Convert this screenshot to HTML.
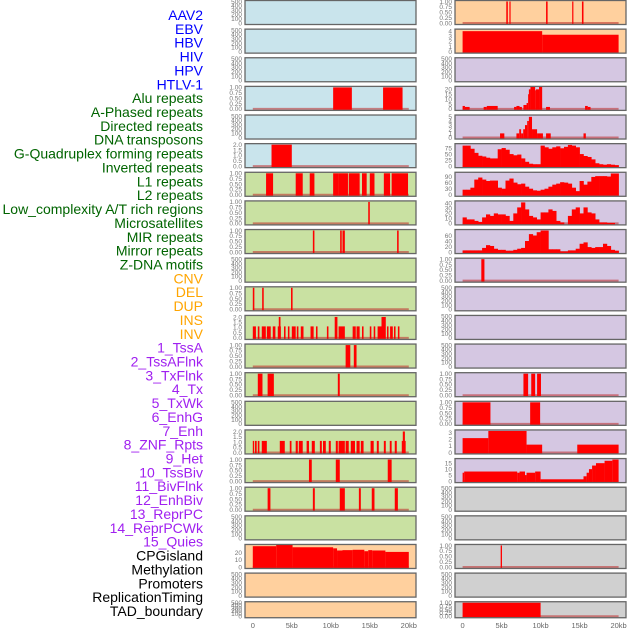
<!DOCTYPE html>
<html><head><meta charset="utf-8">
<style>
html,body{margin:0;padding:0;background:#fff;width:630px;height:630px;overflow:hidden}
svg text{font-family:"Liberation Sans",sans-serif}
</style></head>
<body>
<svg id="chart" width="630" height="630" viewBox="0 0 630 630" xmlns="http://www.w3.org/2000/svg"></svg>
<script>
// ---- labels ----
const trackLabels = ["AAV2","EBV","HBV","HIV","HPV","HTLV-1","Alu repeats","A-Phased repeats","Directed repeats","DNA transposons","G-Quadruplex forming repeats","Inverted repeats","L1 repeats","L2 repeats","Low_complexity A/T rich regions","Microsatellites","MIR repeats","Mirror repeats","Z-DNA motifs","CNV","DEL","DUP","INS","INV","1_TssA","2_TssAFlnk","3_TxFlnk","4_Tx","5_TxWk","6_EnhG","7_Enh","8_ZNF_Rpts","9_Het","10_TssBiv","11_BivFlnk","12_EnhBiv","13_ReprPC","14_ReprPCWk","15_Quies","CPGisland","Methylation","Promoters","ReplicationTiming","TAD_boundary"];
const labelColors = ["#0000ff","#0000ff","#0000ff","#0000ff","#0000ff","#0000ff","#006400","#006400","#006400","#006400","#006400","#006400","#006400","#006400","#006400","#006400","#006400","#006400","#006400","#ffa500","#ffa500","#ffa500","#ffa500","#ffa500","#a020f0","#a020f0","#a020f0","#a020f0","#a020f0","#a020f0","#a020f0","#a020f0","#a020f0","#a020f0","#a020f0","#a020f0","#a020f0","#a020f0","#a020f0","#000","#000","#000","#000","#000"];
const xTickKb = [0,5,10,15,20];
const xTickLabels = ["0","5kb","10kb","15kb","20kb"];

// ---- bar data [startKb, endKb, value] ----
const ebvBars = [[5.6,5.8,1],[6.0,6.15,1],[10.7,10.9,1],[14.05,14.2,1],[15.3,15.5,1]];
const hivBars = [[0,10.2,4],[10.2,20,3.3]];
const aluBars = [[10.3,12.7,1],[16.7,19.2,1]];
const aPhasedBars = [[0,0.3,3],[0.3,0.9,2],[2.7,3.1,2],[3.1,4.5,3],[6.6,6.9,2],[6.9,7.3,3],[7.3,7.6,2],[7.8,8.2,4],[8.2,8.4,6],[8.4,8.5,15],[8.5,8.7,20],[8.7,9.3,23],[9.3,9.4,19],[9.4,9.8,20],[9.8,10.2,23],[10.7,11.2,2],[15.7,16.05,3],[16.05,16.4,2]];
const dnaTranspBars = [[4.8,5.35,1],[6.9,7.26,1],[7.26,7.5,2],[7.5,7.77,1],[7.77,8.0,2],[8.0,8.28,3],[8.28,8.5,4],[8.5,8.9,5],[8.9,9.55,2],[9.55,10.3,1],[10.7,11.3,1],[15.5,15.8,1]];
const gQuadBars = [[2.4,5.0,2]];
const l1Bars = [[1.7,2.6,1],[5.5,6.4,1],[7.3,7.9,1],[10.3,11.0,1],[11.0,12.2,1],[12.3,13.7,1],[14.0,14.6,1],[15.0,15.6,1],[16.8,17.6,1],[17.8,19.9,1]];
const lowCompBars = [[14.8,15.0,1]];
const mirBars = [[7.7,7.9,1],[11.2,11.4,1],[11.5,11.8,1],[18.5,18.7,1]];
const cnvBars = [[2.4,2.8,1]];
const delBars = [[0,0.2,1],[1.2,1.4,1],[4.9,5.1,1]];
const insBars = [[0,0.4,1.1],[0.64,0.85,1.1],[1.15,1.67,1.1],[1.8,2.3,1.1],[2.56,2.9,1.1],[3.2,3.6,1.1],[3.33,3.55,2],[4.0,4.2,1.1],[4.5,4.7,1.1],[5.0,5.5,1.1],[5.64,5.85,1.1],[6.15,6.5,1.1],[7.4,7.8,1.1],[8.1,8.3,1.1],[9.5,9.7,1.1],[10.5,10.85,2],[11.0,11.8,1.1],[12.8,13.2,1.1],[13.3,13.7,1.1],[14.0,14.2,1.1],[15.0,15.2,1.1],[15.5,15.7,1.1],[16.0,16.5,1.1],[16.5,17.05,2],[17.2,17.4,1.1],[17.6,17.95,1.1],[18.1,18.3,1.1],[18.6,18.8,1.1]];
const tssABars = [[11.9,12.5,1],[12.95,13.3,1]];
const txFlnkBars = [[0.64,1.24,1],[1.9,2.7,1],[10.9,11.15,1]];
const txBars = [[7.8,8.4,1],[8.8,9.3,1],[9.55,10.05,1]];
const enhGBars = [[0,3.57,1],[8.66,9.94,1]];
const enhBars = [[0,0.13,1.1],[0.26,0.5,1.1],[0.64,0.85,1.1],[1.15,1.8,1.1],[3.46,4.1,1.1],[4.74,4.96,1.1],[5.5,5.77,1.1],[5.9,6.4,1.1],[6.9,7.2,1.1],[7.56,7.95,1.1],[8.6,8.85,1.1],[9.0,9.36,1.1],[9.74,10.0,1.1],[10.64,10.9,1.1],[11.0,11.8,1.1],[11.9,12.3,1.1],[12.56,13.1,1.1],[13.3,13.7,1.1],[13.85,14.2,1.1],[15.1,15.5,1.1],[15.9,16.15,1.1],[16.8,17.05,1.1],[17.56,17.8,1.1],[18.2,18.46,1.1],[19.1,19.6,1.1],[19.23,19.5,2]];
const znfBars = [[0,3.3,2.2],[3.3,8.2,3.3],[8.2,10.2,1.2],[14.7,20,1.2]];
const hetBars = [[7.2,7.56,1],[10.64,11.15,1],[17.3,17.8,1]];
const tssBivBars = [[0,0.2,7],[0.2,7,8],[7,7.3,7],[7.3,8.0,8],[8.0,8.2,5],[8.2,9.3,7],[9.3,10,8],[10,15.5,1.5],[15.5,15.9,4],[15.9,16.2,7],[16.2,16.6,10],[16.6,17.1,13],[17.1,18.2,15],[18.2,19.2,17],[19.2,20,18]];
const bivFlnkBars = [[1.9,2.26,1],[7.7,7.95,1],[11.15,11.8,1],[13.6,13.85,1],[15.25,15.6,1],[18.2,18.6,1]];
const cpgBars = [[0,3,29],[3,5.1,31],[5.1,10.3,27.5],[10.3,10.8,26],[10.8,11.5,23],[11.5,12.8,23.5],[12.8,14.3,24],[14.3,14.8,22],[14.8,15.3,23.5],[15.3,17,23],[17,20,21]];
const methylBars = [[4.88,5.05,1]];
const tadBars = [[0,10,1]];

// ---- profile data (0.5kb bins) ----
const invertedProfile = [85,85,72,55,43,40,35,32,32,70,75,68,50,45,48,32,18,10,8,8,85,78,72,78,82,74,80,88,85,78,50,42,38,28,12,8,6,8,6,4];
const l2Profile = [25,25,35,75,85,75,68,70,70,35,30,70,80,60,52,55,40,30,22,20,25,30,40,50,55,62,60,55,35,18,68,50,65,88,92,92,92,90,105,105];
const microsatProfile = [12,8,8,5,3,12,18,15,20,18,18,15,5,20,32,42,28,15,12,8,22,22,28,25,5,2,0,15,28,32,20,32,22,20,8,2,2,1,1,0];
const mirrorProfile = [6,6,6,6,6,15,25,22,12,8,8,5,5,8,12,15,40,65,60,72,78,78,10,10,10,2,2,6,6,12,30,35,18,15,18,18,30,22,8,5];

// ---- tick label sets ----
const ticksEmpty = [0,100,200,300,400,500];
const ticksUnit = [0,0.25,0.5,0.75,1];
const ticksTwo = [0,0.5,1,1.5,2];

const BG = {blue:"#c9e4ec",peach:"#ffd09e",purple:"#d5c7e2",green:"#c9e1a2",gray:"#d0d0d0"};

// panels: [row, col, bg, ymax, ticks, decimals, bars, profile]
const panels = [
 [0,0,"blue",500,ticksEmpty,0,null,null],[0,1,"peach",1,ticksUnit,2,ebvBars,null],
 [1,0,"blue",500,ticksEmpty,0,null,null],[1,1,"peach",4.2,[0,1,2,3,4],0,hivBars,null],
 [2,0,"blue",500,ticksEmpty,0,null,null],[2,1,"purple",500,ticksEmpty,0,null,null],
 [3,0,"blue",1,ticksUnit,2,aluBars,null],[3,1,"purple",22,[0,5,10,15,20],0,aPhasedBars,null],
 [4,0,"blue",500,ticksEmpty,0,null,null],[4,1,"purple",5.2,[0,1,2,3,4,5],0,dnaTranspBars,null],
 [5,0,"blue",2,ticksTwo,1,gQuadBars,null],[5,1,"purple",89,[0,25,50,75],0,null,invertedProfile],
 [6,0,"green",1,ticksUnit,2,l1Bars,null],[6,1,"purple",106,[0,30,60,90],0,null,l2Profile],
 [7,0,"green",1,ticksUnit,2,lowCompBars,null],[7,1,"purple",43,[0,10,20,30,40],0,null,microsatProfile],
 [8,0,"green",1,ticksUnit,2,mirBars,null],[8,1,"purple",78,[0,20,40,60],0,null,mirrorProfile],
 [9,0,"green",500,ticksEmpty,0,null,null],[9,1,"purple",1,ticksUnit,2,cnvBars,null],
 [10,0,"green",1,ticksUnit,2,delBars,null],[10,1,"purple",500,ticksEmpty,0,null,null],
 [11,0,"green",2.05,ticksTwo,1,insBars,null],[11,1,"purple",500,ticksEmpty,0,null,null],
 [12,0,"green",1,ticksUnit,2,tssABars,null],[12,1,"purple",500,ticksEmpty,0,null,null],
 [13,0,"green",1,ticksUnit,2,txFlnkBars,null],[13,1,"purple",1,ticksUnit,2,txBars,null],
 [14,0,"green",500,ticksEmpty,0,null,null],[14,1,"purple",1,ticksUnit,2,enhGBars,null],
 [15,0,"green",2.05,ticksTwo,1,enhBars,null],[15,1,"purple",3.3,[0,1,2,3],0,znfBars,null],
 [16,0,"green",1,ticksUnit,2,hetBars,null],[16,1,"purple",18,[0,5,10,15],0,tssBivBars,null],
 [17,0,"green",1,ticksUnit,2,bivFlnkBars,null],[17,1,"gray",500,ticksEmpty,0,null,null],
 [18,0,"green",500,ticksEmpty,0,null,null],[18,1,"gray",500,ticksEmpty,0,null,null],
 [19,0,"peach",30,[0,10,20],0,cpgBars,null],[19,1,"gray",1,ticksUnit,2,methylBars,null],
 [20,0,"peach",500,ticksEmpty,0,null,null],[20,1,"gray",500,ticksEmpty,0,null,null],
 [21,0,"peach",500,ticksEmpty,0,null,null],[21,1,"gray",1,ticksUnit,2,tadBars,null]
];

const NS = "http://www.w3.org/2000/svg";
const svg = document.getElementById("chart");
function mk(tag, attrs, parent){ const e=document.createElementNS(NS,tag); for(const k in attrs) e.setAttribute(k,attrs[k]); (parent||svg).appendChild(e); return e; }

// labels
trackLabels.forEach((t,i)=>{
  const el = mk("text",{x:203,y:20+i*13.86,"text-anchor":"end","font-size":"14",fill:labelColors[i]});
  el.textContent=t;
  
  
});

const colFrameX = [245,455], frameW = 171, colX0 = [252.8,462.6], pxPerKb = 7.8;
function xScale(col,kb){ return colX0[col] + kb*pxPerKb; }

panels.forEach(p=>{
  const [row,col,bg,ymax,ticks,dec,bars,prof] = p;
  const top = 0.5 + row*28.63, h = row===21 ? 16 : 24, bottom = top+h;
  const yScale = v => bottom - 1.5 - (v/ymax)*(h-2.5);
  const g = mk("g",{});
  
  
  mk("rect",{x:colFrameX[col],y:top,width:frameW,height:h,fill:BG[bg]},g);
  const clipId="c"+row+"_"+col;
  const cp = mk("clipPath",{id:clipId},g);
  mk("rect",{x:colFrameX[col],y:top,width:frameW,height:h},cp);
  const dg = mk("g",{"clip-path":"url(#"+clipId+")"},g);
  if(bars||prof){
    mk("line",{x1:xScale(col,0),x2:xScale(col,20),y1:yScale(0),y2:yScale(0),stroke:"rgba(190,40,40,0.55)","stroke-width":2},dg);
  }
  if(bars){
    bars.forEach(b=>{
      const x1=xScale(col,b[0]), x2=xScale(col,b[1]);
      const r = mk("rect",{x:x1,y:yScale(b[2]),width:Math.max(x2-x1,1.2),height:yScale(0)-yScale(b[2])+1,fill:"#ff0000"},dg);
      
      
    });
  }
  if(prof){
    prof.forEach((v,i)=>{
      if(v<=0) return;
      const x1=xScale(col,i*0.5), x2=xScale(col,(i+1)*0.5);
      const r = mk("rect",{x:x1,y:yScale(v),width:x2-x1+0.3,height:yScale(0)-yScale(v)+1,fill:"#ff0000"},dg);
      
      
    });
  }
  mk("rect",{x:colFrameX[col],y:top,width:frameW,height:h,fill:"none",stroke:"#666","stroke-width":1.3},g);
  ticks.forEach(t=>{
    const tx = mk("text",{x:colFrameX[col]-3,y:yScale(t)+2.3,"text-anchor":"end","font-size":"6.5",fill:"#777"},g);
    tx.textContent = t.toFixed(dec);
    
    
  });
});

// x axes
[0,1].forEach(col=>{
  xTickKb.forEach((kb,i)=>{
    const tx = mk("text",{x:xScale(col,kb),y:628,"text-anchor":"middle","font-size":"7.5",fill:"#666"});
    tx.textContent = xTickLabels[i];
    
    
  });
});
</script>
</body></html>
